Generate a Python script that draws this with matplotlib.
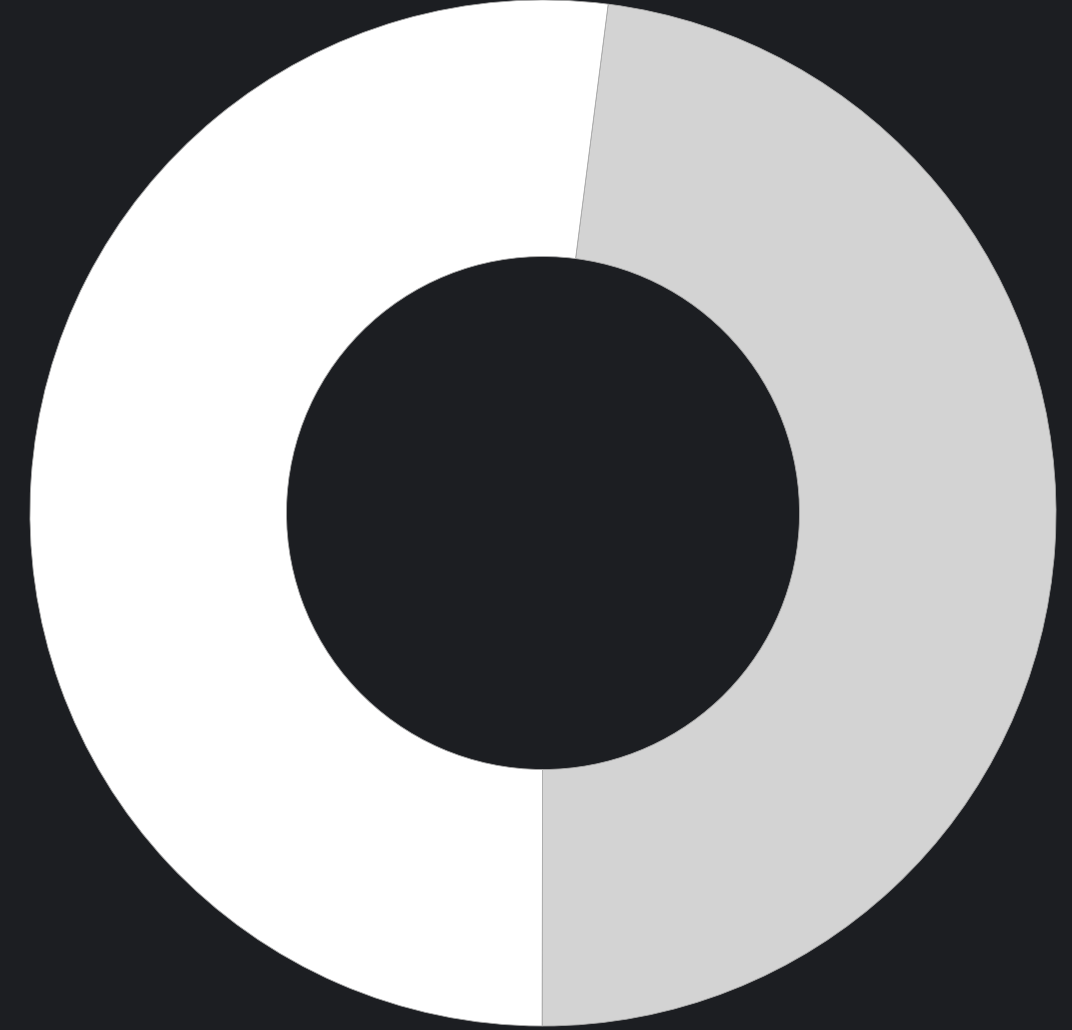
import matplotlib.pyplot as plt

labels = ["Gray", "White"]
values = [48, 52]
colors = ["#d3d3d3", "#ffffff"]

bg = "#1c1e22"

fig = plt.figure(figsize=(10.72, 10.30), dpi=100, facecolor=bg)
ax = fig.add_axes([30 / 1072, 4 / 1030, 1026 / 1072, 1026 / 1030])
ax.set_facecolor(bg)

ax.pie(values, colors=colors, startangle=82.7, counterclock=False,
       radius=1.0,
       wedgeprops=dict(width=0.5, edgecolor="#a8a8a8", linewidth=0.6))
ax.set_xlim(-1, 1)
ax.set_ylim(-1, 1)
ax.set_aspect("equal")
ax.axis("off")

fig.savefig("out.png", dpi=100, facecolor=bg)
